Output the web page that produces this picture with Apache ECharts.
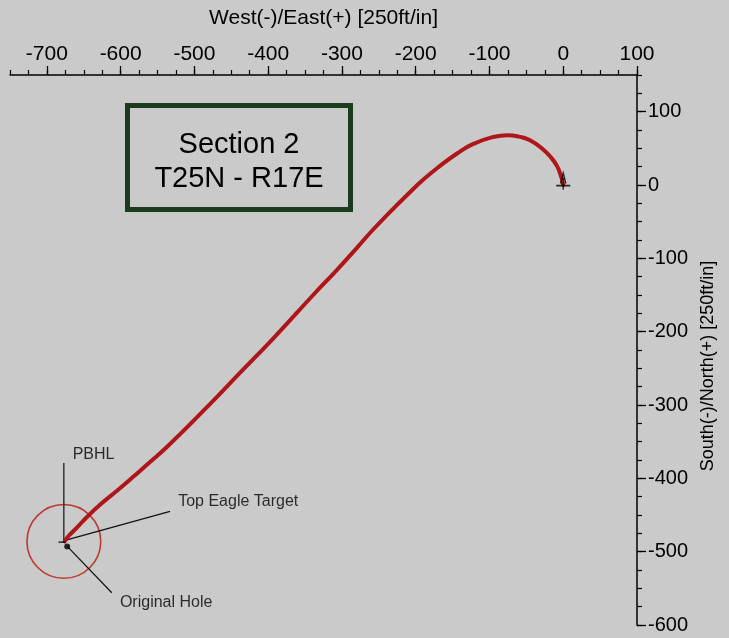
<!DOCTYPE html>
<html><head><meta charset="utf-8">
<script src="https://cdn.jsdelivr.net/npm/echarts@6/dist/echarts.min.js"></script>
<style>html,body{margin:0;padding:0;background:#cacaca}#c{width:729px;height:638px}</style>
</head><body><div id="c"></div>
<script>
// ---- data (plot units, 250ft/in) ----
const xTicks = [-700, -600, -500, -400, -300, -200, -100, 0, 100];
const yTicks = [-600, -500, -400, -300, -200, -100, 0, 100];
const wellPath = [
  [0, 0], [-3, 12], [-8, 25], [-16, 37], [-28, 49], [-45, 61], [-60, 66], [-75, 68],
  [-97, 65], [-122, 56], [-144, 43], [-167, 26], [-190, 7], [-212, -14], [-235, -37],
  [-258, -61], [-280, -86], [-307, -116], [-339, -150], [-393, -209], [-438, -256],
  [-483, -303], [-537, -357], [-564, -381], [-583, -398], [-605, -417], [-628, -436],
  [-645, -452], [-660, -468], [-670, -478], [-676, -486]
];
const wellhead = [[0, 5]];
const pbhlCircle = [[-677, -486, 50]];
const originalHole = [[-672.5, -493]];
const targetTick = [[-679.5, -487]];
const pbhlLeader = [[-677, -379], [-677, -484]];
const targetLeader = [[-533, -445], [-673, -484]];
const holeLeader = [[-612, -556], [-673, -492]];
const annotations = [
  { name: 'PBHL', value: [-665, -368] },
  { name: 'Top Eagle Target', value: [-522, -432] },
  { name: 'Original Hole', value: [-601, -570] }
];
const boxLines = ['Section 2', 'T25N - R17E'];

const FONT = '"Liberation Sans", Arial, Helvetica, sans-serif';
const INK = '#000';
const chart = echarts.init(document.getElementById('c'), null, { renderer: 'canvas' });

function leader(data) {
  return {
    type: 'line', data: data, symbol: 'none', silent: true, z: 3,
    lineStyle: { color: '#111', width: 1.2 }, animation: false
  };
}

chart.setOption({
  backgroundColor: '#cacaca',
  animation: false,
  grid: { left: 10, right: 92, top: 75, bottom: 13, containLabel: false },
  xAxis: [
    {
      type: 'value', position: 'top', min: -750, max: 100, interval: 25,
      axisLine: { onZero: false, lineStyle: { color: INK, width: 1.5 } },
      axisTick: { length: 5, lineStyle: { color: INK, width: 1.2 } },
      axisLabel: { show: false }, splitLine: { show: false }
    },
    {
      type: 'value', position: 'top', min: -750, max: 100,
      axisLine: { show: false, onZero: false },
      axisTick: { customValues: xTicks, length: 9, lineStyle: { color: INK, width: 1.3 } },
      axisLabel: { customValues: xTicks, fontSize: 21, fontFamily: FONT, color: INK, margin: 10 },
      splitLine: { show: false },
      name: 'West(-)/East(+) [250ft/in]', nameLocation: 'middle', nameGap: 46,
      nameTextStyle: { fontSize: 21, fontFamily: FONT, color: INK }
    }
  ],
  yAxis: [
    {
      type: 'value', position: 'right', min: -600, max: 150, interval: 25,
      axisLine: { onZero: false, lineStyle: { color: INK, width: 1.5 } },
      axisTick: { length: 5, lineStyle: { color: INK, width: 1.2 } },
      axisLabel: { show: false }, splitLine: { show: false }
    },
    {
      type: 'value', position: 'right', min: -600, max: 150,
      axisLine: { show: false, onZero: false },
      axisTick: { customValues: yTicks, length: 9, lineStyle: { color: INK, width: 1.3 } },
      axisLabel: { customValues: yTicks, fontSize: 20, fontFamily: FONT, color: INK, margin: 11 },
      splitLine: { show: false },
      name: 'South(-)/North(+) [250ft/in]', nameLocation: 'middle', nameGap: 62,
      nameTextStyle: { fontSize: 18, fontFamily: FONT, color: INK, padding: [0, 32, 0, 0] }
    }
  ],
  series: [
    {
      type: 'custom', data: pbhlCircle, z: 2, silent: true,
      renderItem: function (params, api) {
        const c = api.coord([api.value(0), api.value(1)]);
        const r = api.size([api.value(2), 0])[0];
        return { type: 'circle', shape: { cx: c[0], cy: c[1], r: r },
                 style: { fill: 'none', stroke: '#bd3a30', lineWidth: 1.6 } };
      }
    },
    leader(pbhlLeader), leader(targetLeader), leader(holeLeader),
    {
      type: 'line', data: wellPath, smooth: 0.5, symbol: 'none', z: 4,
      lineStyle: { color: '#ae161a', width: 4, cap: 'round' }
    },
    {
      type: 'scatter', data: wellhead, z: 5, silent: true,
      symbol: 'path://M0,13H16M8,9V17M5,11L8,1L11,11M6,7H10', symbolSize: [14, 17],
      itemStyle: { color: 'none', borderColor: INK, borderWidth: 1.5 }
    },
    {
      type: 'scatter', data: originalHole, z: 5, silent: true,
      symbol: 'circle', symbolSize: 6, itemStyle: { color: INK }
    },
    {
      type: 'scatter', data: targetTick, z: 5, silent: true,
      symbol: 'rect', symbolSize: [7, 1.5], itemStyle: { color: INK }
    },
    {
      type: 'scatter', data: annotations, symbolSize: 0, z: 6, silent: true,
      label: {
        show: true, position: 'right', distance: 0, formatter: '{b}',
        fontSize: 16, fontFamily: FONT, color: INK
      }
    }
  ],
  graphic: [
    {
      type: 'rect', z: 10,
      shape: { x: 127.5, y: 105.5, width: 223, height: 104 },
      style: { fill: 'none', stroke: '#1c3a1e', lineWidth: 5 }
    },
    {
      type: 'text', z: 10, x: 239, y: 145,
      style: { text: boxLines[0], fontSize: 29, fontFamily: FONT, fill: INK, align: 'center', verticalAlign: 'middle' }
    },
    {
      type: 'text', z: 10, x: 239, y: 179,
      style: { text: boxLines[1], fontSize: 29, fontFamily: FONT, fill: INK, align: 'center', verticalAlign: 'middle' }
    }
  ]
});
</script></body></html>
